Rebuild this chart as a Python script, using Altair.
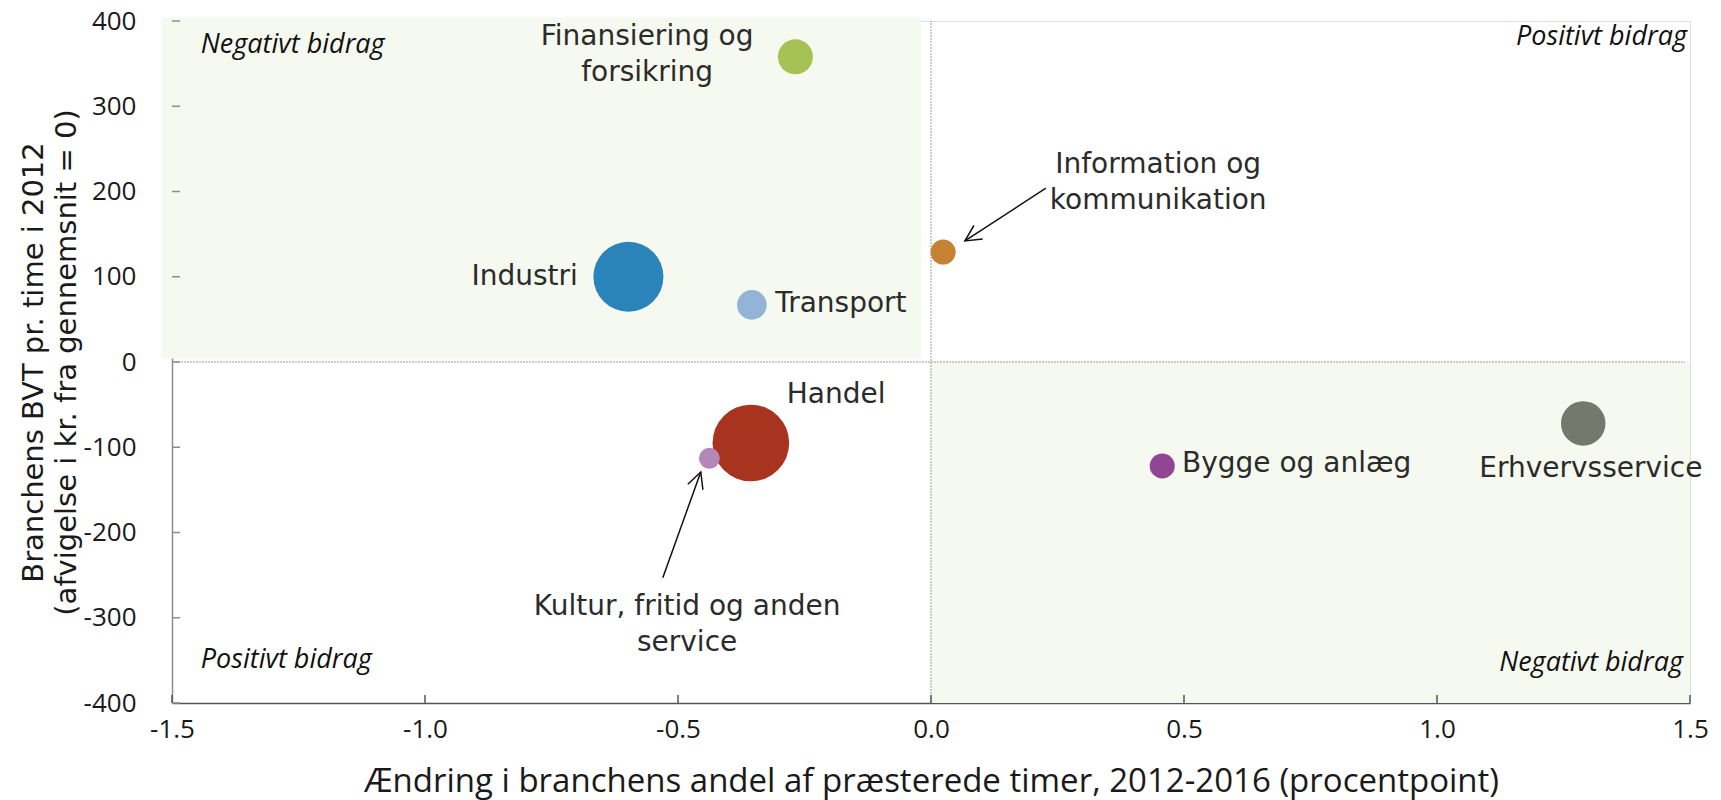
import math
import altair as alt
import pandas as pd

# ---------------- data ----------------
industries = ["Finansiering og forsikring", "Industri", "Transport",
              "Information og kommunikation", "Handel",
              "Kultur, fritid og anden service", "Bygge og anlæg", "Erhvervsservice"]
x_change = [-0.268, -0.598, -0.354, 0.024, -0.356, -0.438, 0.457, 1.289]
y_bvt = [358, 100, 67, 129, -95, -113, -122, -72]
bubble_size = [3.9, 15.6, 2.8, 2.0, 18.7, 1.4, 2.0, 6.3]
bubble_colors = ["#A6C254", "#2B84B9", "#93B3D7", "#C58232",
                 "#A8331E", "#B387BA", "#924592", "#75786C"]

# label anchor = position of the label's first line
label_text = ["Finansiering og\nforsikring", "Industri", "Transport",
              "Information og\nkommunikation", "Handel",
              "Kultur, fritid og anden\nservice", "Bygge og anlæg", "Erhvervsservice"]
label_x = [-0.561, -0.698, -0.308, 0.449, -0.285, -0.482, 0.496, 1.304]
label_y = [381, 100, 68, 231, -39, -287, -120, -126]
label_align = ["center", "right", "left", "center", "left", "center", "left", "center"]

corner_text = ["Negativt bidrag", "Positivt bidrag", "Positivt bidrag", "Negativt bidrag"]
corner_x = [-1.443, 1.494, -1.443, 1.486]
corner_y = [372, 381, -350, -353]
corner_align = ["left", "right", "left", "right"]

arrow_x_tail = [0.227, -0.530]
arrow_y_tail = [204, -253]
arrow_x_head = [0.067, -0.455]
arrow_y_head = [142, -129]

shade_x = [-1.52, 0.0]
shade_x2 = [-0.02, 1.5]
shade_y = [4, -400]
shade_y2 = [404, 0]

x_ticks = [-1.5, -1.0, -0.5, 0.0, 0.5, 1.0, 1.5]
y_ticks = [-400, -300, -200, -100, 0, 100, 200, 300, 400]

X_DOMAIN = [-1.5, 1.5]
Y_DOMAIN = [-400, 400]

# ---------------- layout ----------------
W, H = 1518, 682
px_x = W / (X_DOMAIN[1] - X_DOMAIN[0])
px_y = H / (Y_DOMAIN[1] - Y_DOMAIN[0])
TICK_PX = 8

FONT = "Open Sans"
WIDE_FONT = "DejaVu Sans"

xs = alt.Scale(domain=X_DOMAIN, nice=False, zero=False)
ys = alt.Scale(domain=Y_DOMAIN, nice=False, zero=False)

bubbles = pd.DataFrame({"name": industries, "x": x_change, "y": y_bvt,
                        "size": bubble_size, "color": bubble_colors})
labels = pd.DataFrame({"text": label_text, "x": label_x, "y": label_y, "align": label_align})
corners = pd.DataFrame({"text": corner_text, "x": corner_x, "y": corner_y, "align": corner_align})
shades = pd.DataFrame({"x": shade_x, "x2": shade_x2, "y": shade_y, "y2": shade_y2})

angles = []
for xt, yt, xh, yh in zip(arrow_x_tail, arrow_y_tail, arrow_x_head, arrow_y_head):
    dx = (xh - xt) * px_x
    dy = -(yh - yt) * px_y
    angles.append(math.degrees(math.atan2(dx, -dy)) % 360)
arrows = pd.DataFrame({"xt": arrow_x_tail, "yt": arrow_y_tail,
                       "xh": arrow_x_head, "yh": arrow_y_head, "angle": angles})

xtick_df = pd.DataFrame({"x": x_ticks, "y": [Y_DOMAIN[0]] * len(x_ticks),
                         "y2": [Y_DOMAIN[0] + TICK_PX / px_y] * len(x_ticks)})
ytick_df = pd.DataFrame({"y": y_ticks, "x": [X_DOMAIN[0]] * len(y_ticks),
                         "x2": [X_DOMAIN[0] + TICK_PX / px_x] * len(y_ticks)})

hyphen = "replace(datum.label, '\u2212', '-')"

x_axis = alt.Axis(values=x_ticks, format=".1f", labelExpr=hyphen, ticks=False, grid=False,
                  labelFlush=False, labelOverlap=False,
                  domainColor="#555555", domainWidth=1.5, labelPadding=13,
                  labelFont=FONT, labelFontSize=26, labelColor="#1a1a1a",
                  title="Ændring i branchens andel af præsterede timer, 2012-2016 (procentpoint)",
                  titleFont=FONT, titleFontSize=33, titleFontWeight="normal",
                  titleColor="#1a1a1a", titleY=78, titleBaseline="middle")
y_axis = alt.Axis(values=y_ticks, format="d", labelExpr=hyphen, ticks=False, grid=False,
                  labelFlush=False, labelOverlap=False,
                  domainColor="#8c8c8c", domainWidth=1.5, labelPadding=36,
                  labelFont=FONT, labelFontSize=26, labelColor="#1a1a1a",
                  title=["Branchens BVT pr. time i 2012", "(afvigelse i kr. fra gennemsnit = 0)"],
                  titleFont=WIDE_FONT, titleFontSize=29, titleFontWeight="normal",
                  titleColor="#1a1a1a", titleX=-139, titleY=H / 2, titleAngle=270,
                  titleAlign="center", titleBaseline="middle", titleLineHeight=33)

shade_layer = alt.Chart(shades).mark_rect(color="#F6F9EF").encode(
    x=alt.X("x:Q", scale=xs, axis=x_axis), x2="x2:Q",
    y=alt.Y("y:Q", scale=ys, axis=y_axis), y2="y2:Q")

zero_h = alt.Chart(pd.DataFrame({"x": [X_DOMAIN[0]], "x2": [1.49], "y": [0]})).mark_rule(
    color="#9a9a9a", strokeDash=[2, 1], strokeWidth=1).encode(
    x=alt.X("x:Q", scale=xs), x2="x2:Q", y=alt.Y("y:Q", scale=ys))
zero_v = alt.Chart(pd.DataFrame({"x": [0], "y": [Y_DOMAIN[0]], "y2": [Y_DOMAIN[1]]})).mark_rule(
    color="#9a9a9a", strokeDash=[2, 1], strokeWidth=1).encode(
    x=alt.X("x:Q", scale=xs), y=alt.Y("y:Q", scale=ys), y2="y2:Q")

xtick_layer = alt.Chart(xtick_df).mark_rule(color="#555555", strokeWidth=1.5).encode(
    x=alt.X("x:Q", scale=xs), y=alt.Y("y:Q", scale=ys), y2="y2:Q")
ytick_layer = alt.Chart(ytick_df).mark_rule(color="#8c8c8c", strokeWidth=1.5).encode(
    y=alt.Y("y:Q", scale=ys), x=alt.X("x:Q", scale=xs), x2="x2:Q")

bubble_layer = alt.Chart(bubbles).mark_circle(opacity=1).encode(
    x=alt.X("x:Q", scale=xs), y=alt.Y("y:Q", scale=ys),
    size=alt.Size("size:Q", scale=alt.Scale(domain=[0, 20], range=[0, 2000 * math.pi]), legend=None),
    color=alt.Color("color:N", scale=None))

label_layers = []
for al in ["left", "center", "right"]:
    label_layers.append(
        alt.Chart(labels[labels["align"] == al]).mark_text(
            align=al, baseline="middle", font=WIDE_FONT, fontSize=28, color="#2b2b2b",
            lineBreak="\n", lineHeight=36).encode(
            x=alt.X("x:Q", scale=xs), y=alt.Y("y:Q", scale=ys), text="text:N"))

corner_layers = []
for al in ["left", "right"]:
    corner_layers.append(
        alt.Chart(corners[corners["align"] == al]).mark_text(
            align=al, baseline="middle", font=FONT, fontSize=27, fontStyle="italic",
            color="#111111").encode(
            x=alt.X("x:Q", scale=xs), y=alt.Y("y:Q", scale=ys), text="text:N"))

arrow_lines = alt.Chart(arrows).mark_rule(color="#111111", strokeWidth=1.5).encode(
    x=alt.X("xt:Q", scale=xs), y=alt.Y("yt:Q", scale=ys), x2="xh:Q", y2="yh:Q")
arrow_heads = alt.Chart(arrows).mark_point(
    shape="M-0.5,1 L0,0 L0.5,1", filled=False, color="#111111", strokeWidth=1.5,
    size=1024, opacity=1).encode(
    x=alt.X("xh:Q", scale=xs), y=alt.Y("yh:Q", scale=ys), angle=alt.Angle("angle:Q", scale=None))

chart = alt.layer(
    shade_layer, zero_h, zero_v, xtick_layer, ytick_layer, bubble_layer,
    *label_layers, *corner_layers, arrow_lines, arrow_heads
).properties(
    width=W, height=H,
    padding={"left": 164, "top": 13, "right": 20, "bottom": 97},
    autosize=alt.AutoSizeParams(type="none"),
).configure_view(stroke=None).configure(font=FONT)

chart.save("out.html", embed_options={"renderer": "svg", "actions": False})
